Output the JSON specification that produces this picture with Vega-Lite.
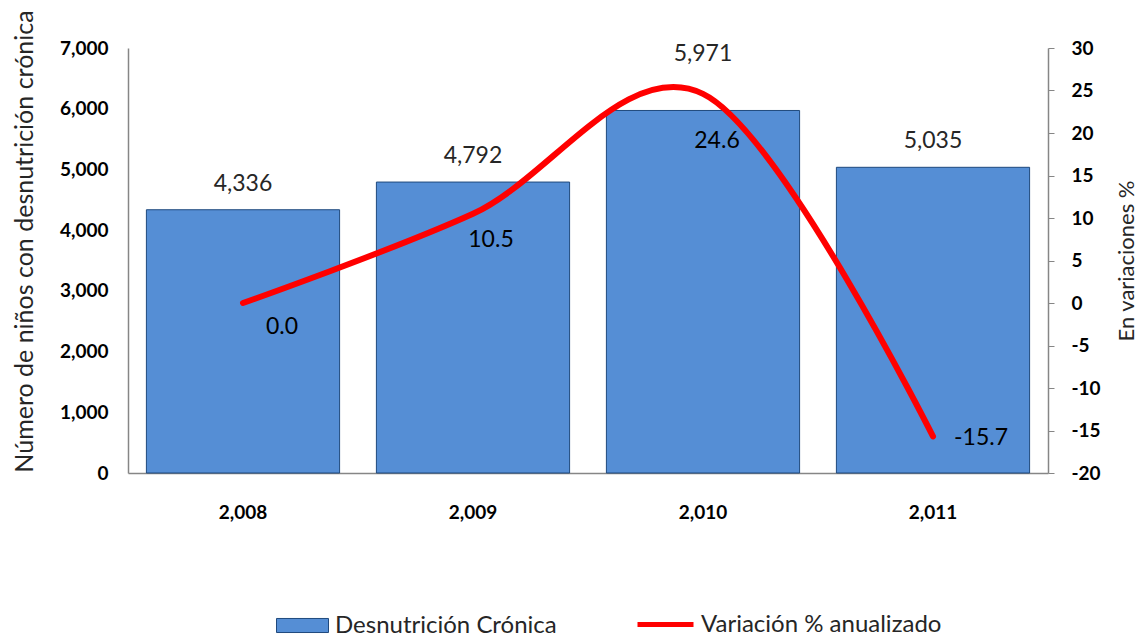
{
  "$schema": "https://vega.github.io/schema/vega-lite/v6.json",
  "width": 920,
  "height": 425,
  "autosize": "none",
  "padding": {"left": 128, "top": 48, "right": 93, "bottom": 164},
  "background": "white",
  "config": {
    "font": "Lato",
    "locale": {"number": {"decimal": ".", "thousands": ",", "grouping": [3], "currency": ["$", ""], "minus": "-"}},
    "view": {"stroke": null},
    "axis": {"grid": false, "domainColor": "#868686", "tickColor": "#868686", "labelColor": "#000000", "titleColor": "#262626", "labelFont": "Lato", "titleFont": "Lato"}
  },
  "data": {
    "values": [
      {"anio": 2008, "ninos": 4336, "variacion": 0.0},
      {"anio": 2009, "ninos": 4792, "variacion": 10.5},
      {"anio": 2010, "ninos": 5971, "variacion": 24.6},
      {"anio": 2011, "ninos": 5035, "variacion": -15.7}
    ]
  },
  "encoding": {
    "x": {
      "field": "anio",
      "type": "ordinal",
      "scale": {"paddingInner": 0.16, "paddingOuter": 0.08},
      "axis": {
        "title": null,
        "labelExpr": "format(datum.value, ',')",
        "labelAngle": 0,
        "labelFontSize": 19,
        "labelFontWeight": "bold",
        "labelPadding": 30,
        "ticks": false,
        "domainWidth": 1.5
      }
    }
  },
  "layer": [
    {
      "encoding": {
        "y": {
          "field": "ninos",
          "type": "quantitative",
          "scale": {"domain": [0, 7000]},
          "axis": {
            "title": "Número de niños con desnutrición crónica",
            "titleFontSize": 25,
            "titleFontWeight": "normal",
            "titlePadding": 22,
            "titleY": 193,
            "values": [0, 1000, 2000, 3000, 4000, 5000, 6000, 7000],
            "format": ",d",
            "labelFontSize": 19,
            "labelFontWeight": "bold",
            "labelPadding": 20,
            "labelOverlap": false,
            "ticks": false,
            "domainWidth": 1.5
          }
        }
      },
      "layer": [
        {
          "mark": {"type": "bar", "stroke": "#1F497D", "strokeWidth": 1},
          "encoding": {
            "fill": {
              "datum": "Desnutrición Crónica",
              "type": "nominal",
              "scale": {"range": ["#558ED5"]},
              "legend": {
                "title": null,
                "orient": "none",
                "legendX": 148,
                "legendY": 551,
                "padding": 0,
                "symbolType": "M-1,-0.27H1V0.27H-1Z",
                "symbolSize": 2704,
                "symbolStrokeColor": "#1F497D",
                "symbolStrokeWidth": 1,
                "labelFontSize": 24,
                "labelFont": "Lato",
                "labelColor": "#262626",
                "labelOffset": 6,
                "labelLimit": 500
              }
            }
          }
        },
        {
          "transform": [{"filter": "datum.anio != 2010"}],
          "mark": {"type": "text", "baseline": "middle", "dy": -26, "fontSize": 23, "color": "#262626"},
          "encoding": {"text": {"field": "ninos", "format": ","}}
        },
        {
          "transform": [{"filter": "datum.anio == 2010"}],
          "mark": {"type": "text", "baseline": "middle", "dy": -56, "fontSize": 23, "color": "#262626"},
          "encoding": {"text": {"field": "ninos", "format": ","}}
        }
      ]
    },
    {
      "encoding": {
        "y": {
          "field": "variacion",
          "type": "quantitative",
          "scale": {"domain": [-20, 30]},
          "axis": {
            "orient": "right",
            "title": "En variaciones %",
            "titleFontSize": 22,
            "titleFontWeight": "normal",
            "titleAngle": 270,
            "titlePadding": 38,
            "values": [-20, -15, -10, -5, 0, 5, 10, 15, 20, 25, 30],
            "format": "d",
            "labelFontSize": 19,
            "labelFontWeight": "bold",
            "labelPadding": 17,
            "labelOverlap": false,
            "tickSize": 6,
            "domainWidth": 1.5
          }
        }
      },
      "layer": [
        {
          "mark": {"type": "line", "interpolate": "cardinal", "strokeWidth": 6, "strokeCap": "round"},
          "encoding": {
            "stroke": {
              "datum": "Variación % anualizado",
              "type": "nominal",
              "scale": {"range": ["#FF0000"]},
              "legend": {
                "title": null,
                "orient": "none",
                "legendX": 507,
                "legendY": 546,
                "padding": 0,
                "symbolType": "stroke",
                "symbolSize": 3136,
                "symbolStrokeWidth": 5,
                "labelFontSize": 24,
                "labelFont": "Lato",
                "labelColor": "#262626",
                "labelOffset": 5,
                "labelLimit": 500
              }
            }
          }
        },
        {
          "transform": [{"filter": "datum.anio == 2008"}],
          "mark": {"type": "text", "baseline": "middle", "dx": 39, "dy": 24, "fontSize": 23, "color": "#000000"},
          "encoding": {"text": {"field": "variacion", "format": ".1f"}}
        },
        {
          "transform": [{"filter": "datum.anio == 2009"}],
          "mark": {"type": "text", "baseline": "middle", "dx": 18, "dy": 26, "fontSize": 23, "color": "#000000"},
          "encoding": {"text": {"field": "variacion", "format": ".1f"}}
        },
        {
          "transform": [{"filter": "datum.anio == 2010"}],
          "mark": {"type": "text", "baseline": "middle", "dx": 14, "dy": 47, "fontSize": 23, "color": "#000000"},
          "encoding": {"text": {"field": "variacion", "format": ".1f"}}
        },
        {
          "transform": [{"filter": "datum.anio == 2011"}],
          "mark": {"type": "text", "baseline": "middle", "dx": 48, "dy": 2, "fontSize": 23, "color": "#000000"},
          "encoding": {"text": {"field": "variacion", "format": ".1f"}}
        }
      ]
    }
  ],
  "resolve": {"scale": {"y": "independent", "fill": "independent", "stroke": "independent"}}
}
